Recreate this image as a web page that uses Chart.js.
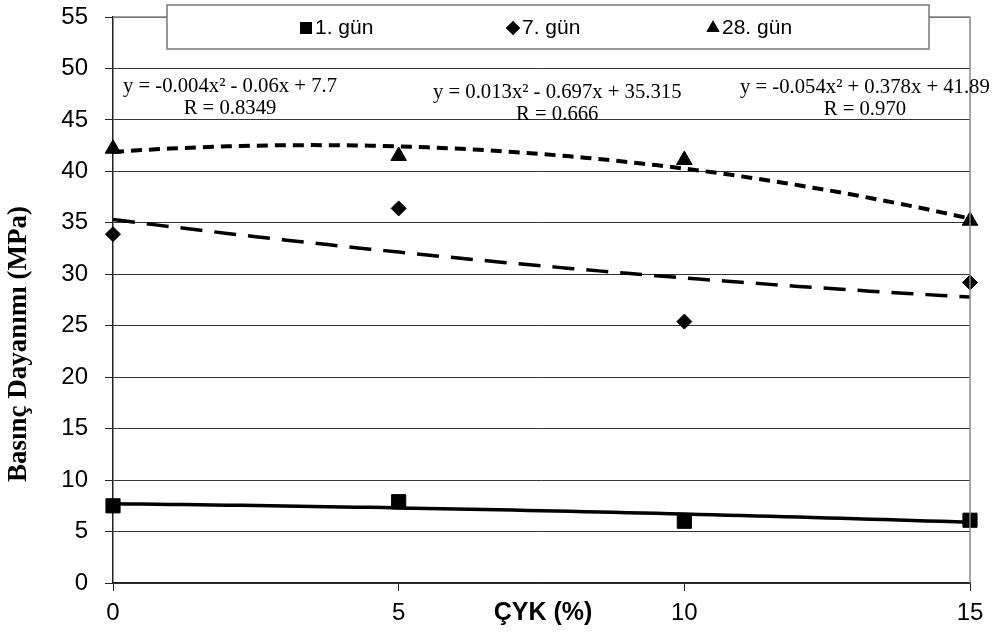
<!DOCTYPE html>
<html>
<head>
<meta charset="utf-8">
<script src="https://cdn.jsdelivr.net/npm/chart.js"></script>
<style>
  html, body { margin: 0; padding: 0; background: #fff; }
  #wrap { width: 992px; height: 633px; }
</style>
</head>
<body>
<div id="wrap"><canvas id="chart" width="992" height="633"></canvas></div>
<script>
const cykValues = [0, 5, 10, 15];
const gun1 = [7.5, 7.9, 6.0, 6.1];
const gun7 = [33.9, 36.4, 25.4, 29.2];
const gun28 = [42.2, 41.5, 41.1, 35.2];

const seriesLabels = ['1. gün', '7. gün', '28. gün'];

// trend line coefficients [c, b, a] for y = a x² + b x + c (as printed on the chart)
const trend1 = [7.7, -0.06, -0.004];
const trend7 = [35.315, -0.697, 0.013];
const trend28 = [41.89, 0.378, -0.054];

const eqTexts = [
  'y = -0.004x² - 0.06x + 7.7',
  'y = 0.013x² - 0.697x + 35.315',
  'y = -0.054x² + 0.378x + 41.89'
];
const rTexts = ['R = 0.8349', 'R = 0.666', 'R = 0.970'];

const yTicks = [0, 5, 10, 15, 20, 25, 30, 35, 40, 45, 50, 55];
const xTicks = [0, 5, 10, 15];

function toPoints(xs, ys) {
  return xs.map((x, i) => ({ x: x, y: ys[i] }));
}

function trendPoints(coef) {
  const pts = [];
  for (let x = xTicks[0]; x <= xTicks[xTicks.length - 1] + 1e-9; x += 0.25) {
    pts.push({ x: x, y: coef[0] + coef[1] * x + coef[2] * x * x });
  }
  return pts;
}

const overlayPlugin = {
  id: 'overlay',
  afterDraw(chart) {
    const ctx = chart.ctx;
    const area = chart.chartArea;
    ctx.save();

    // top and right frame
    ctx.strokeStyle = '#888';
    ctx.lineWidth = 1.5;
    ctx.beginPath();
    ctx.moveTo(area.left, area.top);
    ctx.lineTo(area.right, area.top);
    ctx.lineTo(area.right, area.bottom);
    ctx.stroke();

    // legend box
    ctx.fillStyle = '#fff';
    ctx.fillRect(167, 5, 762, 44);
    ctx.strokeStyle = '#777';
    ctx.lineWidth = 1.5;
    ctx.strokeRect(167, 5, 762, 44);

    const legendX = [300, 507, 707];
    const styles = ['rect', 'rectRot', 'triangle'];
    const radii = [8.5, 7, 7.5];
    ctx.font = '21px "Liberation Sans", Arial, sans-serif';
    ctx.textBaseline = 'middle';
    ctx.textAlign = 'left';
    seriesLabels.forEach((label, i) => {
      ctx.fillStyle = '#000';
      Chart.helpers.drawPoint(ctx, { pointStyle: styles[i], radius: radii[i], borderWidth: 0 }, legendX[i] + 6, 28);
      ctx.fill();
      ctx.fillText(label, legendX[i] + 15, 28);
    });

    // trend equations
    ctx.font = '20.7px "Liberation Serif", "Times New Roman", serif';
    ctx.fillStyle = '#000';
    const eqX = [123, 433, 740];
    const eqY = [87, 93, 88];
    eqTexts.forEach((t, i) => {
      const w = ctx.measureText(t).width;
      ctx.textAlign = 'left';
      ctx.fillText(t, eqX[i], eqY[i]);
      ctx.textAlign = 'center';
      ctx.fillText(rTexts[i], eqX[i] + w / 2, eqY[i] + 22);
    });

    // axis titles
    ctx.font = 'bold 25px "Liberation Sans", Arial, sans-serif';
    ctx.textAlign = 'center';
    ctx.fillText('ÇYK (%)', 543, 613);

    ctx.translate(19, 344);
    ctx.rotate(-Math.PI / 2);
    ctx.font = 'bold 27px "Liberation Serif", "Times New Roman", serif';
    ctx.fillText('Basınç Dayanımı (MPa)', 0, 0);
    ctx.restore();
  }
};

new Chart(document.getElementById('chart'), {
  type: 'scatter',
  data: {
    datasets: [
      {
        label: seriesLabels[0],
        data: toPoints(cykValues, gun1),
        pointStyle: 'rect',
        pointRadius: 10,
        backgroundColor: '#000',
        borderColor: '#000',
        clip: false,
        order: 1
      },
      {
        label: seriesLabels[1],
        data: toPoints(cykValues, gun7),
        pointStyle: 'rectRot',
        pointRadius: 7.5,
        backgroundColor: '#000',
        borderColor: '#000',
        clip: false,
        order: 1
      },
      {
        label: seriesLabels[2],
        data: toPoints(cykValues, gun28),
        pointStyle: 'triangle',
        pointRadius: 9,
        backgroundColor: '#000',
        borderColor: '#000',
        clip: false,
        order: 1
      },
      {
        label: 'trend1',
        data: trendPoints(trend1),
        showLine: true,
        pointRadius: 0,
        borderColor: '#000',
        borderWidth: 3.5,
        order: 2
      },
      {
        label: 'trend7',
        data: trendPoints(trend7),
        showLine: true,
        pointRadius: 0,
        borderColor: '#000',
        borderWidth: 3.5,
        borderDash: [22, 12],
        order: 2
      },
      {
        label: 'trend28',
        data: trendPoints(trend28),
        showLine: true,
        pointRadius: 0,
        borderColor: '#000',
        borderWidth: 4,
        borderDash: [11, 7],
        order: 2
      }
    ]
  },
  options: {
    responsive: false,
    animation: false,
    layout: { padding: { top: 17, right: 22, left: 0, bottom: 0 } },
    plugins: {
      legend: { display: false },
      tooltip: { enabled: false }
    },
    scales: {
      x: {
        type: 'linear',
        min: 0,
        max: 15,
        afterFit: (s) => { s.height = 50; s.paddingRight = 0; s.paddingLeft = 0; },
        afterBuildTicks: (s) => { s.ticks = xTicks.map(v => ({ value: v })); },
        ticks: {
          color: '#000',
          padding: 8,
          font: { family: '"Liberation Sans", Arial, sans-serif', size: 24 }
        },
        grid: { drawOnChartArea: false, tickLength: 8, tickColor: '#222' },
        border: { color: '#222', width: 1.5 }
      },
      y: {
        min: 0,
        max: 55,
        afterFit: (s) => { s.width = 113; s.paddingTop = 0; s.paddingBottom = 0; },
        afterBuildTicks: (s) => { s.ticks = yTicks.map(v => ({ value: v })); },
        ticks: {
          color: '#000',
          padding: 17,
          font: { family: '"Liberation Sans", Arial, sans-serif', size: 24 }
        },
        grid: { color: '#333', lineWidth: 1, tickLength: 8, tickColor: '#222' },
        border: { color: '#222', width: 1.5 }
      }
    }
  },
  plugins: [overlayPlugin]
});
</script>
</body>
</html>
